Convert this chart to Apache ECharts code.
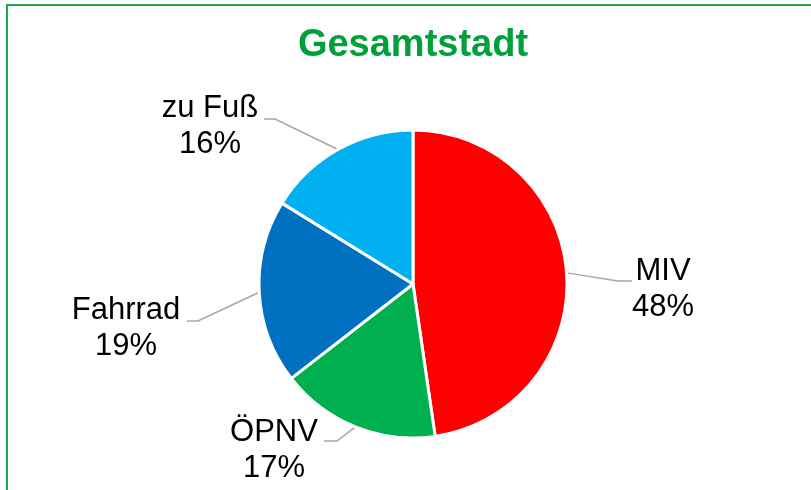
<!DOCTYPE html>
<html>
<head>
<meta charset="utf-8">
<script src="https://cdn.jsdelivr.net/npm/echarts@6/dist/echarts.min.js"></script>
<style>html,body{margin:0;padding:0;background:#fff}#c{width:811px;height:490px}</style>
</head>
<body>
<div id="c"></div>
<script>
var categories = ['MIV', 'ÖPNV', 'Fahrrad', 'zu Fuß'];
var values = [47.7, 16.8, 19.3, 16.2];
var colors = ['#FF0000', '#00B050', '#0070C0', '#00B0F0'];
var titleText = 'Gesamtstadt';

// label layout (text block centre, line bend and line end)
var labelPos = [
  {x: 663, y: 289, bend: [618, 281], end: [632, 281]},
  {x: 274, y: 450, bend: [337, 441], end: [324, 441]},
  {x: 126, y: 328, bend: [198, 321], end: [187, 321]},
  {x: 210, y: 126, bend: [275, 119], end: [264, 119]}
];

var chart = echarts.init(document.getElementById('c'));
chart.setOption({
  animation: false,
  graphic: [{
    type: 'rect',
    shape: {x: 7, y: 5, width: 900, height: 600},
    style: {fill: 'none', stroke: '#1FA84A', lineWidth: 2},
    silent: true
  }, {
    type: 'text',
    x: 413,
    y: 27,
    style: {
      text: titleText,
      align: 'center',
      verticalAlign: 'top',
      font: 'bold 38px "Liberation Sans", Arial',
      fill: '#00A13A'
    },
    silent: true
  }],
  series: [{
    type: 'pie',
    center: [413, 284],
    radius: 154,
    startAngle: 90,
    clockwise: true,
    data: categories.map(function (c, i) {
      return {name: c, value: values[i], itemStyle: {color: colors[i]}};
    }),
    itemStyle: {borderColor: '#fff', borderWidth: 3},
    label: {
      show: true,
      formatter: function (p) { return p.name + '\n' + Math.round(p.percent) + '%'; },
      fontFamily: 'Liberation Sans, Arial',
      fontSize: 31,
      lineHeight: 36,
      color: '#000',
      align: 'center'
    },
    labelLine: {show: true, lineStyle: {color: '#A6A6A6', width: 1.5}},
    labelLayout: function (params) {
      var lp = labelPos[params.dataIndex];
      var start = params.labelLinePoints ? params.labelLinePoints[0] : lp.bend;
      return {
        x: lp.x,
        y: lp.y,
        align: 'center',
        verticalAlign: 'middle',
        labelLinePoints: [start, lp.bend, lp.end]
      };
    }
  }]
});
</script>
</body>
</html>
